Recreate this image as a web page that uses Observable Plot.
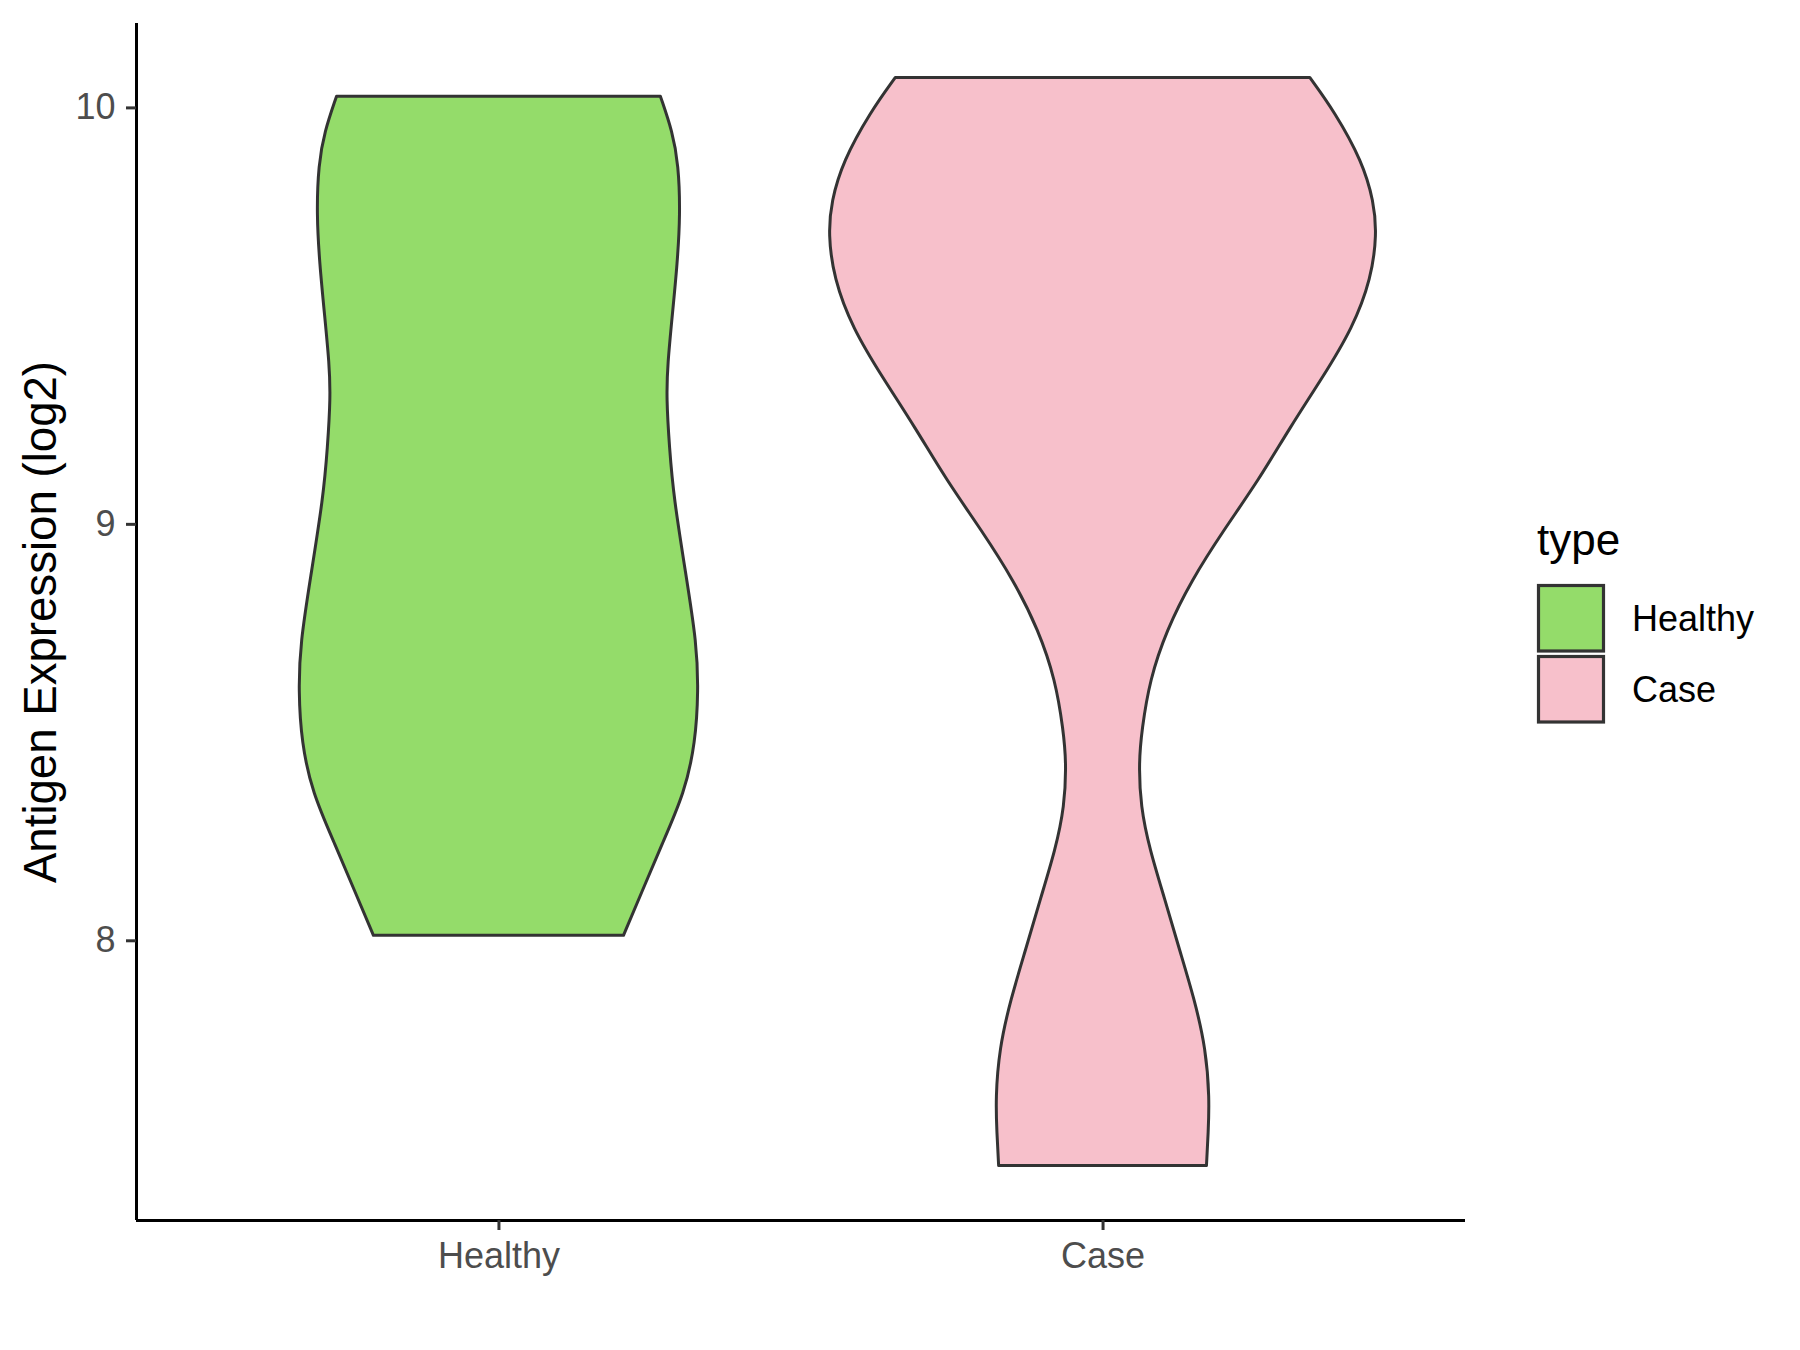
<!DOCTYPE html>
<html>
<head>
<meta charset="utf-8">
<script src="https://cdn.jsdelivr.net/npm/d3@7"></script>
<script src="https://cdn.jsdelivr.net/npm/@observablehq/plot@0.6"></script>
<style>
  html, body { margin: 0; padding: 0; background: white; }
  #wrap { display: flex; flex-direction: row; width: 1800px; height: 1350px; }
  #wrap svg { display: block; }
</style>
</head>
<body>
<div id="wrap"></div>
<script>
// ---- data ----
const categories = ["Healthy", "Case"];
const fillColors = ["#94DC6A", "#F7C0CB"];
const yTicks = [8, 9, 10];
const yTitle = "Antigen Expression (log2)";
const legendTitle = "type";

// violin outlines: expression values and half-width (in category units)
const healthyY     = [10.027, 9.942, 9.863, 9.743, 9.624, 9.504, 9.384, 9.303, 9.183, 9.064, 8.872, 8.714, 8.601, 8.474, 8.354, 8.235, 8.115, 8.012];
const healthyWidth = [0.268, 0.288, 0.298, 0.301, 0.296, 0.288, 0.280, 0.278, 0.283, 0.290, 0.311, 0.328, 0.331, 0.326, 0.308, 0.272, 0.237, 0.207];
const caseY        = [10.072, 9.990, 9.870, 9.774, 9.696, 9.590, 9.470, 9.351, 9.231, 9.104, 8.984, 8.864, 8.745, 8.625, 8.505, 8.427, 8.321, 8.218, 8.099, 7.979, 7.859, 7.740, 7.620, 7.540, 7.459];
const caseWidth    = [0.343, 0.384, 0.430, 0.449, 0.454, 0.445, 0.414, 0.364, 0.310, 0.258, 0.200, 0.147, 0.106, 0.078, 0.065, 0.060, 0.063, 0.078, 0.103, 0.127, 0.152, 0.171, 0.177, 0.175, 0.172];

// ---- build table ----
const allY = [healthyY, caseY];
const allW = [healthyWidth, caseWidth];
const rows = [];
categories.forEach((c, i) => {
  allY[i].forEach((y, j) => rows.push({type: c, y, x1: i + 1 - allW[i][j], x2: i + 1 + allW[i][j]}));
});
const yMin = d3.min(rows, d => d.y), yMax = d3.max(rows, d => d.y);
const pad = (yMax - yMin) * 0.05;
const yDomain = [yMin - pad, yMax + pad];
const xDomain = [0.4, categories.length + 0.6];

const font = "'Liberation Sans', Arial, Helvetica, sans-serif";

const plot = Plot.plot({
  width: 1500,
  height: 1350,
  marginLeft: 136,
  marginRight: 35,
  marginTop: 23,
  marginBottom: 130,
  style: {fontFamily: font, background: "white", overflow: "visible"},
  x: {domain: xDomain},
  y: {domain: yDomain},
  color: {domain: categories, range: fillColors},
  marks: [
    Plot.areaX(rows, {y: "y", x1: "x1", x2: "x2", fill: "type", z: "type", stroke: "#333333", strokeWidth: 3, strokeLinejoin: "round", curve: "basis"}),
    Plot.ruleX([xDomain[0]], {stroke: "black", strokeWidth: 3}),
    Plot.ruleY([yDomain[0]], {stroke: "black", strokeWidth: 3}),
    Plot.axisY({ticks: yTicks, tickFormat: d => String(d), tickSize: 10, tickPadding: 11, fontSize: 36, stroke: "#333333", fill: "#4D4D4D", strokeWidth: 3, label: null}),
    Plot.axisX({ticks: d3.range(1, categories.length + 1), tickFormat: d => categories[d - 1], tickSize: 10, tickPadding: 12, fontSize: 36, stroke: "#333333", fill: "#4D4D4D", strokeWidth: 3, label: null}),
    Plot.text([yTitle], {text: d => d, frameAnchor: "left", textAnchor: "middle", rotate: -90, dx: -95, fontSize: 45.6, fill: "black"})
  ]
});

const wrap = document.getElementById("wrap");
wrap.appendChild(plot);

// ---- legend ----
const color = plot.scale("color");
const leg = d3.create("svg").attr("width", 300).attr("height", 1350)
  .style("font-family", font).style("background", "white");
leg.append("text").attr("x", 37).attr("y", 555).attr("font-size", 44).attr("fill", "black").text(legendTitle);
categories.forEach((c, i) => {
  const y0 = 585.5 + i * 71;
  leg.append("rect").attr("x", 38.5).attr("y", y0).attr("width", 65).attr("height", 65.5)
    .attr("fill", color.apply(c)).attr("stroke", "#333333").attr("stroke-width", 3.2);
  leg.append("text").attr("x", 132).attr("y", y0 + 33).attr("dy", "0.35em")
    .attr("font-size", 36).attr("fill", "black").text(c);
});
wrap.appendChild(leg.node());
</script>
</body>
</html>
